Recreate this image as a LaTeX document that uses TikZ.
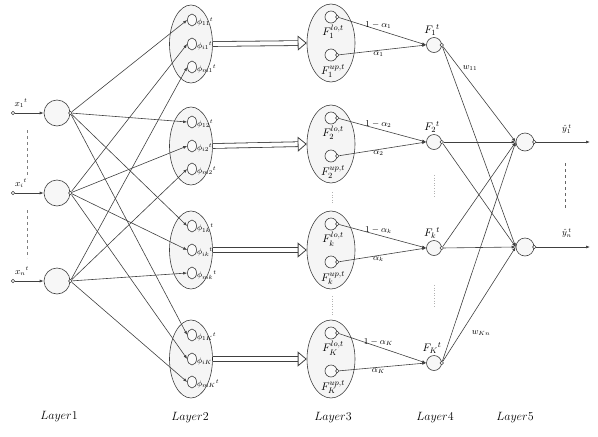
\documentclass[tikz,border=0pt]{standalone}
\usepackage{fontspec}
\setmainfont{Liberation Serif}
\usepackage{tikz}
\usetikzlibrary{arrows.meta,shapes.geometric}

\begin{document}
\begin{tikzpicture}[x=1pt, y=-1pt,
  line width=0.6pt,
  neuron/.style={circle, draw=black!75, fill=gray!6, minimum size=26pt, inner sep=0pt},
  cell/.style={ellipse, draw=black!75, fill=gray!4, minimum width=9pt, minimum height=12pt, inner sep=0pt},
  grp/.style={ellipse, draw=black!75, fill=gray!8, minimum width=43pt, minimum height=78pt, inner sep=0pt},
  fgrp/.style={ellipse, draw=black!75, fill=gray!8, minimum width=48pt, minimum height=78pt, inner sep=0pt},
  fcell/.style={circle, draw=black!75, fill=gray!4, minimum size=12pt, inner sep=0pt},
  sumnode/.style={circle, draw=black!75, fill=gray!6, minimum size=15pt, inner sep=0pt},
  outnode/.style={circle, draw=black!75, fill=gray!6, minimum size=18pt, inner sep=0pt},
  tap/.style={circle, draw=black!75, fill=white, minimum size=3.5pt, inner sep=0pt},
  arr/.style={draw=black!75, -{Latex[length=4pt,width=3pt]}},
  hollow/.style={draw=black!75, line width=0.8pt, double=white, double distance=4pt,
                 -{Triangle[open,length=9pt,width=15pt]}},
  lbl/.style={font=\small, inner sep=1pt},
  flbl/.style={font=\fontsize{11}{12}\selectfont, inner sep=1pt},
  layername/.style={font=\fontsize{11.5}{13}\selectfont}
]
\useasboundingbox (0,0) rectangle (598,437);

% Layer 1
\node[neuron] (n1) at (57,113) {};
\node[neuron] (n2) at (57,193) {};
\node[neuron] (n3) at (57,281) {};
\node[tap] (x1) at (13,113) {};
\node[tap] (x2) at (13,193) {};
\node[tap] (x3) at (13,281) {};
\node[tap] (o1) at (n1.east) {};
\node[tap] (o2) at (n2.east) {};
\node[tap] (o3) at (n3.east) {};
\node[lbl] at (21,103) {${x_1}^{t}$};
\node[lbl] at (21,183) {${x_i}^{t}$};
\node[lbl] at (22,271) {${x_n}^{t}$};
\draw[arr] (x1) -- (n1);
\draw[arr] (x2) -- (n2);
\draw[arr] (x3) -- (n3);
\draw[gray, dashed] (27,130) -- (27,178);
\draw[gray, dashed] (27,210) -- (27,258);

% Layer 2
\foreach \g/\y/\s in {1/44/1, 2/146/2, 3/250/k, 4/359/K} {
  \node[grp] (g\g) at (191,\y) {};
  \node[cell] (c\g1) at (192,\y-24) {};
  \node[cell] (c\g2) at (192,\y) {};
  \node[cell] (c\g3) at (192,\y+23) {};
  \node[lbl, font=\footnotesize, anchor=west, xshift=-1pt, yshift=-2pt] at (c\g1.east) {${\phi_{1\s}}^{t}$};
  \node[lbl, font=\footnotesize, anchor=west, xshift=-1pt, yshift=-2pt] at (c\g2.east) {${\phi_{i\s}}^{t}$};
  \node[lbl, font=\footnotesize, anchor=west, xshift=-1pt, yshift=-2pt] at (c\g3.east) {${\phi_{m\s}}^{t}$};
  \draw[arr] (o1) -- (c\g1.west);
  \draw[arr] (o2) -- (c\g2.west);
  \draw[arr] (o3) -- (c\g3.west);
}

% Layer 3 and Layer 4
\foreach \g/\y/\s/\yy in {1/43/1/45, 2/144/2/142, 3/250/k/248, 4/359/K/363} {
  \node[fgrp] (f\g) at (331,\y) {};
  \node[fcell] (l\g) at (331,\y-26) {};
  \node[fcell] (u\g) at (331,\y+12) {};
  \node[tap] (lt\g) at (l\g.east) {};
  \node[tap] (ut\g) at (u\g.east) {};
  \node[flbl] at (333,\y-11) {$F_{\s}^{lo,t}$};
  \node[flbl] at (333,\y+28) {$F_{\s}^{up,t}$};
  \draw[hollow] (g\g.east) -- (f\g.west);
  \node[sumnode] (s\g) at (434,\yy) {};
  \node[tap] (st\g) at (s\g.east) {};
  \node[flbl] at (432,\yy-15) {${F_{\s}}^{t}$};
  \draw[arr] (lt\g) -- node[pos=0.45, above, lbl] {$1-\alpha_{\s}$} (s\g.west);
  \draw[arr] (ut\g) -- node[pos=0.45, below, lbl] {$\alpha_{\s}$} (s\g.west);
}
\draw[gray!60, dotted] (332,192) -- (332,204);
\draw[gray!60, dotted] (332,296) -- (332,316);
\draw[gray!60, dotted] (434,175) -- (434,197);
\draw[gray!60, dotted] (434,285) -- (434,307);

% Layer 5
\node[outnode] (y1) at (525,142) {};
\node[outnode] (y2) at (525,247) {};
\node[tap] (yt1) at (y1.east) {};
\node[tap] (yt2) at (y2.east) {};
\coordinate (e1) at (590,142);
\coordinate (e2) at (590,247);
\draw[arr] (yt1) -- (e1);
\draw[arr] (yt2) -- (e2);
\node[lbl] at (567,129) {${\hat{y}_1}^{\,t}$};
\node[lbl] at (567,233) {${\hat{y}_n}^{\,t}$};
\draw[black!60, dashed] (565,163) -- (565,208);
\foreach \g in {1,...,4} {
  \draw[arr] (st\g) -- (y1.west);
  \draw[arr] (st\g) -- (y2.west);
}
\node[lbl] at (470,68) {$w_{11}$};
\node[lbl] at (481,333) {$w_{Kn}$};

% layer names
\node[layername] at (59,417) {$Layer1$};
\node[layername] at (190,418) {$Layer2$};
\node[layername] at (333,418) {$Layer3$};
\node[layername] at (435,418) {$Layer4$};
\node[layername] at (515,418) {$Layer5$};
\end{tikzpicture}
\end{document}
